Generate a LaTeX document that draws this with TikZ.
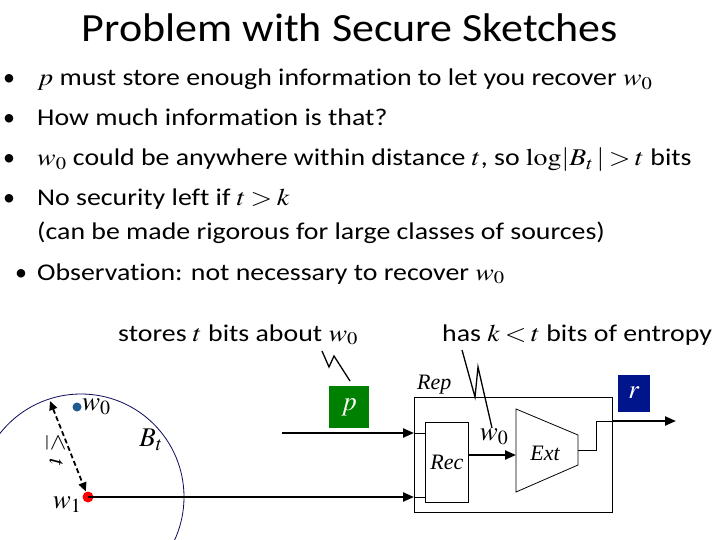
\documentclass[tikz,border=0pt]{standalone}
\usepackage{mathptmx}
\usepackage{fontspec}
\setmainfont{Carlito}[Ligatures=NoCommon]
\newfontfamily\tms{Liberation Serif}
\usetikzlibrary{arrows.meta,calc,positioning}

\definecolor{pgreen}{RGB}{0,128,0}
\definecolor{rblue}{RGB}{0,20,140}
\definecolor{dotblue}{RGB}{31,90,145}
\definecolor{ballnavy}{RGB}{10,10,90}

\newcommand\bigtxt{\fontsize{24}{28}\selectfont\thickmuskip=3mu\medmuskip=2mu}
\newcommand\symtxt{\fontsize{27}{30}\selectfont}
\newcommand\midtxt{\fontsize{22}{26}\selectfont}

\begin{document}
\begin{tikzpicture}[x=1pt,y=-1pt,
  bul/.style={anchor=base,font=\bigtxt},
  line/.style={anchor=base west,font=\bigtxt,inner sep=0pt,xscale=1.16,transform shape},
  lbl/.style={font=\midtxt,inner sep=1pt},
  heavy/.style={line width=2.2pt,-{Triangle[length=11pt,width=9pt]}},
  thin/.style={line width=0.8pt}]
\useasboundingbox (0,0) rectangle (720,540);

% title and bullets
\node[anchor=base,font=\fontsize{40}{44}\selectfont,xscale=1.1,transform shape] (title) at (350,42) {Problem with Secure Sketches};
\foreach \y/\nm in {86/b1,126/b2,166/b3,206/b4}
  \node[bul] (\nm) at (9,\y) {\textbullet};
\node[bul] (b6) at (21,280) {\textbullet};
\node[line] (l1) at (37,86) {$p$ must store enough information to let you recover $w_0$};
\node[line] (l2) at (37,126) {How much information is that?};
\node[line] (l3) at (37,166) {$w_0$ could be anywhere within distance $t$, so $\log\!|B_t\,|>t$ bits};
\node[line] (l4) at (37,206) {No security left if $t>k$};
\node[line] (l5) at (37,240) {(can be made rigorous for large classes of sources)};
\node[line] (l6) at (37,280) {Observation: not necessary to recover $w_0$};

% annotations
\node[line] (stores) at (118,341) {stores $t$ bits about $w_0$};
\node[line] (entropy) at (442,341) {has $k<t$ bits of entropy};

% ball around w1
\coordinate (ctr) at (81,497);
\draw[ballnavy,thin] (ctr) circle (103);
\fill[dotblue] (77,407) circle (4.5) coordinate (w0dot);
\fill[red] (88,497) circle (5.5) coordinate (w1dot);
\node[anchor=west,font=\symtxt,inner sep=0pt] (w0) at (82,407) {$w_0$};
\node[font=\symtxt,inner sep=0pt] (w1) at (67,505) {$w_1$};
\node[font=\symtxt] (Bt) at (151,440) {$B_t$};
\coordinate (edge) at (50,401);
\draw[line width=1.8pt,dash pattern=on 5pt off 3pt,{Triangle[length=9pt,width=8pt]}-{Triangle[length=9pt,width=8pt]}] (edge) -- ($(w1dot)!6pt!(edge)$);
\node[rotate=-90,font=\bigtxt,inner sep=0pt] (dist) at (56,450) {$\leq\,t$};

% Rep box
\node[draw,thin,minimum width=198,minimum height=115,anchor=north west,inner sep=0pt] (rep) at (414,397) {};
\node[anchor=south west,lbl] (replbl) at (416,395) {\itshape\tms Rep};
\node[draw,thin,minimum width=43,minimum height=80,anchor=north west,inner sep=0pt,font=\midtxt] (rec) at (425,422) {\itshape\tms Rec};
\coordinate (e1) at (516,409);
\coordinate (e2) at (578,435);
\coordinate (e3) at (578,465);
\coordinate (e4) at (516,492);
\draw[thin] (e1) -- (e2) -- (e3) -- (e4) -- cycle;
\node[font=\midtxt] (ext) at (545,453) {\itshape\tms Ext};

% helper data p and output r
\node[fill=pgreen,text=white,minimum width=40,minimum height=42,inner sep=0pt,font=\symtxt] (p) at (349,407) {$p$};
\node[fill=rblue,text=white,minimum width=32,minimum height=37,inner sep=0pt,font=\symtxt] (r) at (634,393) {$r$};

% wires
\coordinate (pin) at (282,433);
\draw[heavy] (pin) -- (pin -| rep.west);
\draw[thin] (pin -| rep.west) -- (pin -| rec.west);
\draw[heavy] (w1dot) -- (w1dot -| rep.west);
\draw[thin] (w1dot -| rep.west) -- (w1dot -| rec.west);
\draw[heavy] (rec.east |- 0,455) -- (e1 |- 0,455);
\node[font=\symtxt,inner sep=0pt] (w0b) at (494,437) {$w_0$};
\coordinate (eout) at (578,450);
\draw[thin] (eout) -- (596,450) -- (596,421) -- (rep.east |- 0,421);
\draw[heavy] (rep.east |- 0,421) -- (676,421);

% squiggles
\draw[line width=1.3pt] (322,351) -- (329,367) -- (334,356) -- (350,381);
\draw[line width=1.3pt] (462,350) -- (475,397) -- (478,367) -- (492,428);
\end{tikzpicture}
\end{document}
